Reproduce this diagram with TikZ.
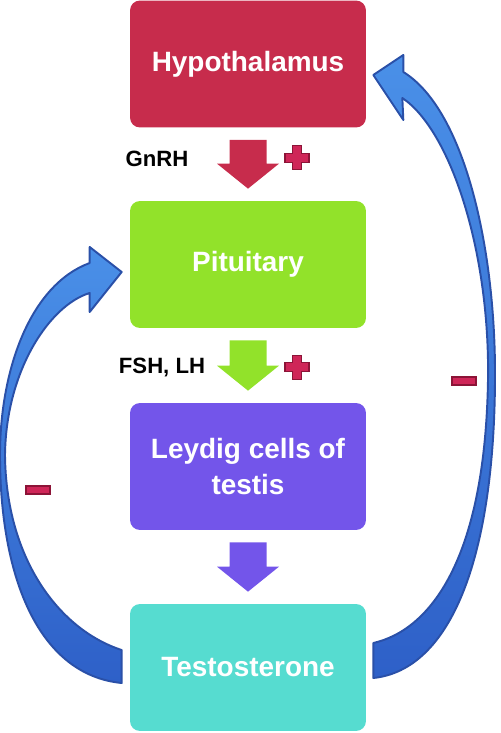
\documentclass[tikz,border=0pt]{standalone}
\usepackage{fontspec}
\setmainfont{Liberation Sans}
\usetikzlibrary{calc}
\usetikzlibrary{positioning}

\definecolor{hypored}{RGB}{199,44,76}
\definecolor{pitgreen}{RGB}{146,226,42}
\definecolor{leypurple}{RGB}{115,85,234}
\definecolor{testteal}{RGB}{86,220,208}
\definecolor{signred}{RGB}{207,38,88}
\definecolor{signdark}{RGB}{140,20,55}
\definecolor{loopdark}{RGB}{42,80,168}
\definecolor{looplight}{RGB}{74,144,232}
\definecolor{loopdeep}{RGB}{46,96,200}

% block arrow in the gap between two boxes
\newcommand\gaparrow[3]{%
  \fill[#1] ($(#2.south)+(-18.5,12)$) -- ($(#2.south)+(18.5,12)$)
    -- ($(#3.north)+(18.5,-37)$) -- ($(#3.north)+(31,-37)$)
    -- ($(#3.north)+(0,-12)$) -- ($(#3.north)+(-31,-37)$)
    -- ($(#3.north)+(-18.5,-37)$) -- cycle;}
\newcommand\plusmark[1]{%
  \draw[sign] (#1) ++(-4.5,-12) -- ++(9,0) -- ++(0,7.5) -- ++(7.5,0)
    -- ++(0,9) -- ++(-7.5,0) -- ++(0,7.5) -- ++(-9,0) -- ++(0,-7.5)
    -- ++(-7.5,0) -- ++(0,-9) -- ++(7.5,0) -- cycle;}

\begin{document}
\begin{tikzpicture}[x=0.02cm, y=-0.02cm]
\tikzstyle{every node}=[font=\bfseries]
\tikzstyle{gland}=[rectangle, rounded corners=0.2cm, minimum width=4.72cm, minimum height=2.54cm, inner sep=0pt, text=white, align=center, font=\fontsize{15.9}{21}\selectfont\bfseries]
\tikzstyle{hormone}=[font=\fontsize{12.6}{14}\selectfont\bfseries]
\tikzstyle{sign}=[fill=signred, draw=signdark, line width=0.6pt]
\tikzstyle{feedback}=[top color=looplight, bottom color=loopdeep, draw=loopdark, line width=1.1pt, line join=round]
\useasboundingbox (0,0) rectangle (500,733);

\node[gland, fill=hypored] (hypo) at (248,64) {Hypothalamus};
\node[gland, fill=pitgreen] (pit) at (248,264.5) {Pituitary};
\node[gland, fill=leypurple] (leydig) at (248,466.5) {Leydig cells of\\testis};
\node[gland, fill=testteal] (testo) at (248,667.5) {Testosterone};

\node[hormone] (gnrh) at (157,159) {GnRH};
\node[hormone] (fshlh) at (162,367) {FSH, LH};

\gaparrow{hypored}{hypo}{pit}
\gaparrow{pitgreen}{pit}{leydig}
\gaparrow{leypurple}{leydig}{testo}

\plusmark{$(hypo.south)+(49,30)$}
\plusmark{$(pit.south)+(49,39)$}

% testosterone back to pituitary
\coordinate (lfoot) at ($(testo.west)+(-8,0)$);
\coordinate (lhead) at ($(pit.west)+(-8,7.5)$);
\draw[feedback] ($(lfoot)+(0,-17.5)$) .. controls (60,630) and (6,560) .. (5,455)
   .. controls (6,370) and (50,305) .. ($(lhead)+(-32,21)$) -- ++(0,19) -- (lhead)
   -- ($(lhead)+(-32,-25)$) -- ++(0,16) .. controls (30,285) and (0,370) .. (0,455)
   .. controls (0,580) and (40,675) .. ($(lfoot)+(0,15.5)$) -- cycle;

% testosterone back to hypothalamus
\coordinate (rfoot) at ($(testo.east)+(7,0)$);
\coordinate (rhead) at ($(hypo.east)+(7,11)$);
\draw[feedback] ($(rfoot)+(0,-24.5)$) .. controls (430,630) and (485,560) .. (488,380)
   .. controls (490,250) and (450,130) .. ($(rhead)+(29,23)$) -- ($(rhead)+(30,45)$)
   -- (rhead) -- ($(rhead)+(30,-20)$) -- ($(rhead)+(30,-3)$)
   .. controls (465,110) and (496,250) .. (495,380)
   .. controls (494,560) and (450,670) .. ($(rfoot)+(0,10.5)$) -- cycle;

\draw[sign] (26,486) rectangle (50,494);
\draw[sign] (452,377) rectangle (476,385);
\end{tikzpicture}
\end{document}
